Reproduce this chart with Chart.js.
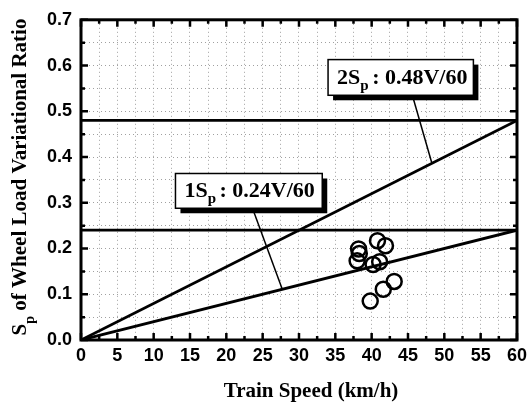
<!DOCTYPE html>
<html>
<head>
<meta charset="utf-8">
<script src="https://cdn.jsdelivr.net/npm/chart.js@4.4.0/dist/chart.umd.min.js"></script>
<style>
  body { margin: 0; background: #fff; }
  canvas { display: block; }
</style>
</head>
<body>
<canvas id="chart" width="532" height="403"></canvas>
<script>
// measured points (train speed km/h, Sp of wheel load variational ratio)
const speeds = [40.8, 41.9, 38.2, 38.3, 38.0, 41.1, 40.2, 43.1, 41.6, 39.8];
const ratios = [0.217, 0.206, 0.199, 0.189, 0.173, 0.171, 0.165, 0.128, 0.111, 0.085];

// limit lines
const limitSpeeds = [0, 60];
const oneSpFlat = [0.24, 0.24];
const twoSpFlat = [0.48, 0.48];
const oneSpSlope = [0, 0.24];   // 0.24V/60
const twoSpSlope = [0, 0.48];   // 0.48V/60

// labels for the lines: [text, subscript, rest], box corners and leader line in data units
const labelTexts = [['1S', 'p', ' : 0.24V/60'], ['2S', 'p', ' : 0.48V/60']];
const labelBoxes = [[13.0, 0.364, 33.2, 0.288], [34.0, 0.613, 54.0, 0.535]];
const labelLeaders = [[23.6, 0.288, 27.7, 0.111], [45.6, 0.535, 48.3, 0.386]];

const xTitle = 'Train Speed (km/h)';
const yTitle = ['S', 'p', ' of Wheel Load Variational Ratio'];

const toPoints = (xs, ys) => xs.map((x, i) => ({ x, y: ys[i] }));

const lineSet = (ys) => ({
  data: toPoints(limitSpeeds, ys),
  showLine: true,
  borderColor: '#000',
  borderWidth: 2.8,
  pointRadius: 0,
  fill: false
});

const serif = "'Liberation Serif', 'Times New Roman', serif";
const sans = "'Liberation Sans', Arial, sans-serif";

const framePlugin = {
  id: 'frame',
  afterDraw(chart) {
    const { ctx, chartArea: a, scales: { x, y } } = chart;
    ctx.save();
    ctx.strokeStyle = '#000';
    ctx.fillStyle = '#000';

    // inward ticks on all sides
    ctx.lineWidth = 2.5;
    for (let v = 0; v <= 60; v += 2.5) {
      const px = x.getPixelForValue(v);
      const len = v % 5 === 0 ? 7 : 4;
      ctx.beginPath();
      ctx.moveTo(px, a.bottom); ctx.lineTo(px, a.bottom - len);
      ctx.moveTo(px, a.top); ctx.lineTo(px, a.top + len);
      ctx.stroke();
    }
    for (let i = 0; i <= 14; i++) {
      const py = y.getPixelForValue(i * 0.05);
      const len = i % 2 === 0 ? 7 : 4;
      ctx.beginPath();
      ctx.moveTo(a.left, py); ctx.lineTo(a.left + len, py);
      ctx.moveTo(a.right, py); ctx.lineTo(a.right - len, py);
      ctx.stroke();
    }

    // frame
    ctx.lineWidth = 3;
    ctx.strokeRect(a.left, a.top, a.right - a.left, a.bottom - a.top);

    // label boxes with shadow and leader lines
    labelBoxes.forEach((b, i) => {
      const l = x.getPixelForValue(b[0]), t = y.getPixelForValue(b[1]);
      const r = x.getPixelForValue(b[2]), bt = y.getPixelForValue(b[3]);
      const ld = labelLeaders[i];
      ctx.lineWidth = 1.5;
      ctx.beginPath();
      ctx.moveTo(x.getPixelForValue(ld[0]), y.getPixelForValue(ld[1]));
      ctx.lineTo(x.getPixelForValue(ld[2]), y.getPixelForValue(ld[3]));
      ctx.stroke();
      ctx.fillStyle = '#000';
      ctx.fillRect(l + 5, t + 5, r - l, bt - t);
      ctx.fillStyle = '#fff';
      ctx.fillRect(l, t, r - l, bt - t);
      ctx.lineWidth = 1.5;
      ctx.strokeRect(l, t, r - l, bt - t);

      const [a1, sub, rest] = labelTexts[i];
      ctx.fillStyle = '#000';
      ctx.textBaseline = 'alphabetic';
      ctx.textAlign = 'left';
      let tx = l + 9;
      const base = bt - 11;
      ctx.font = 'bold 22px ' + serif;
      ctx.fillText(a1, tx, base);
      tx += ctx.measureText(a1).width;
      ctx.font = 'bold 15px ' + serif;
      ctx.fillText(sub, tx, base + 6);
      tx += ctx.measureText(sub).width - 2;
      ctx.font = 'bold 22px ' + serif;
      ctx.fillText(rest, tx, base);
    });

    // x title
    ctx.font = 'bold 21px ' + serif;
    ctx.textAlign = 'center';
    ctx.textBaseline = 'middle';
    ctx.fillText(xTitle, 311, 392);

    // y title, rotated, with subscript
    ctx.translate(21, 177);
    ctx.rotate(-Math.PI / 2);
    ctx.font = 'bold 21px ' + serif;
    const wS = ctx.measureText(yTitle[0]).width;
    const wR = ctx.measureText(yTitle[2]).width;
    ctx.font = 'bold 14px ' + serif;
    const wP = ctx.measureText(yTitle[1]).width;
    let ty = -(wS + wP + wR) / 2;
    ctx.textAlign = 'left';
    ctx.textBaseline = 'middle';
    ctx.font = 'bold 21px ' + serif;
    ctx.fillText(yTitle[0], ty, 0);
    ty += wS;
    ctx.font = 'bold 14px ' + serif;
    ctx.fillText(yTitle[1], ty, 9);
    ty += wP;
    ctx.font = 'bold 21px ' + serif;
    ctx.fillText(yTitle[2], ty, 0);
    ctx.restore();
  }
};

new Chart(document.getElementById('chart'), {
  type: 'scatter',
  data: {
    datasets: [
      lineSet(twoSpFlat),
      lineSet(oneSpFlat),
      lineSet(twoSpSlope),
      lineSet(oneSpSlope),
      {
        data: toPoints(speeds, ratios),
        pointStyle: 'circle',
        pointRadius: 7.5,
        pointBorderWidth: 2.5,
        pointBorderColor: '#000',
        pointBackgroundColor: 'rgba(0,0,0,0)',
        showLine: false
      }
    ]
  },
  options: {
    responsive: false,
    animation: false,
    devicePixelRatio: 1,
    layout: { padding: { top: 17, right: 14, left: 0, bottom: 0 } },
    plugins: { legend: { display: false }, tooltip: { enabled: false } },
    scales: {
      x: {
        type: 'linear',
        min: 0,
        max: 60,
        afterFit: (s) => { s.height = 63; },
        border: { display: false, dash: [1, 3] },
        grid: { color: '#a0a0a0', lineWidth: 1, drawTicks: false },
        ticks: {
          stepSize: 2.5,
          autoSkip: false,
          maxRotation: 0,
          padding: 5,
          color: '#000',
          font: { family: sans, size: 18, weight: 'bold' },
          callback: (v) => (v % 5 === 0 ? String(v) : '')
        }
      },
      y: {
        type: 'linear',
        min: 0,
        max: 0.7,
        afterFit: (s) => { s.width = 81; },
        border: { display: false, dash: [1, 3] },
        grid: { color: '#a0a0a0', lineWidth: 1, drawTicks: false },
        ticks: {
          stepSize: 0.05,
          autoSkip: false,
          padding: 9,
          color: '#000',
          font: { family: sans, size: 18, weight: 'bold' },
          callback: (v) => (Math.round(v * 20) % 2 === 0 ? v.toFixed(1) : '')
        }
      }
    }
  },
  plugins: [framePlugin]
});
</script>
</body>
</html>
